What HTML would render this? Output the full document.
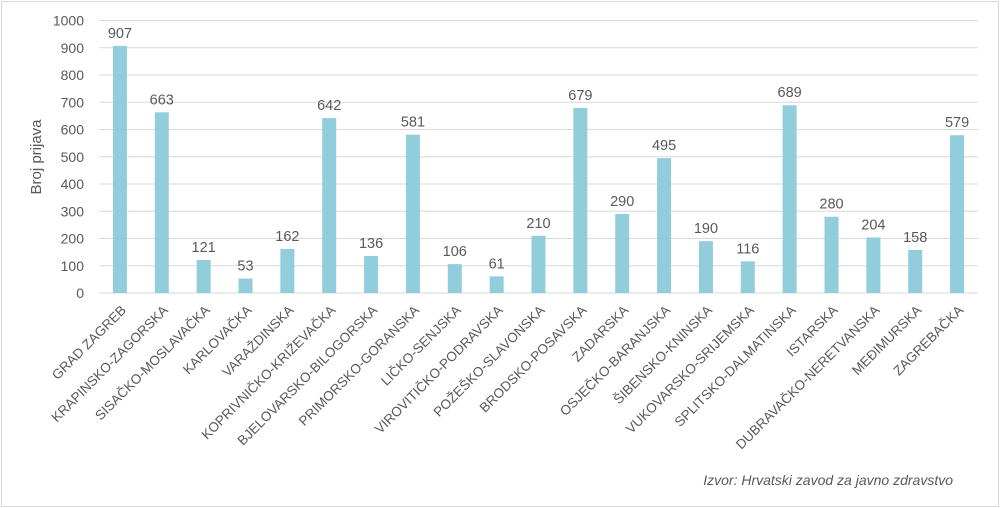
<!DOCTYPE html>
<html><head><meta charset="utf-8"><style>
body{margin:0;background:#fff;}
#wrap{position:relative;width:1000px;height:508px;overflow:hidden;}
#frame{position:absolute;left:1px;top:1px;width:996px;height:504px;border:1px solid #d9d9d9;}
svg text{font-family:"Liberation Sans",sans-serif;fill:#595959;}
</style></head><body>
<div id="wrap">
<div id="frame"></div>
<svg id="chart" width="1000" height="508"></svg>
</div>
<script>
const categories=["GRAD ZAGREB","KRAPINSKO-ZAGORSKA","SISAČKO-MOSLAVAČKA","KARLOVAČKA","VARAŽDINSKA","KOPRIVNIČKO-KRIŽEVAČKA","BJELOVARSKO-BILOGORSKA","PRIMORSKO-GORANSKA","LIČKO-SENJSKA","VIROVITIČKO-PODRAVSKA","POŽEŠKO-SLAVONSKA","BRODSKO-POSAVSKA","ZADARSKA","OSJEČKO-BARANJSKA","ŠIBENSKO-KNINSKA","VUKOVARSKO-SRIJEMSKA","SPLITSKO-DALMATINSKA","ISTARSKA","DUBRAVAČKO-NERETVANSKA","MEĐIMURSKA","ZAGREBAČKA"];
const values=[907,663,121,53,162,642,136,581,106,61,210,679,290,495,190,116,689,280,204,158,579];
const yTicks=[0,100,200,300,400,500,600,700,800,900,1000];
const NS="http://www.w3.org/2000/svg";
const svg=document.getElementById('chart');
const x0=99,x1=978,y0=293,yTop=20.5,yMax=1000;
const y=v=>y0-(v/yMax)*(y0-yTop);
const step=(x1-x0)/categories.length;
const xc=i=>x0+step*(i+0.5);
function mk(t,a){const e=document.createElementNS(NS,t);for(const k in a)e.setAttribute(k,a[k]);svg.appendChild(e);return e;}
yTicks.forEach(v=>{
 const l=mk('line',{x1:x0,x2:x1,y1:y(v),y2:y(v),stroke:'#d9d9d9','stroke-width':1});
 
 
 const t=mk('text',{x:84,y:y(v)+5,'text-anchor':'end','font-size':14});
 t.textContent=v;
 
 
});
const yt=mk('text',{x:0,y:0,'text-anchor':'middle','font-size':15,transform:'translate(41,157) rotate(-90)'});
yt.textContent='Broj prijava';


categories.forEach((c,i)=>{
 const v=values[i],cx=xc(i);
 const r=mk('rect',{x:cx-7,y:y(v),width:14,height:y0-y(v),fill:'#92cddc'});
 
 
 const t=mk('text',{x:cx,y:y(v)-8,'text-anchor':'middle','font-size':14.5});
 t.textContent=v;
 
 
 const l=mk('text',{x:0,y:0,'text-anchor':'end','font-size':13.5,transform:`translate(${cx+7},${y0+18}) rotate(-45)`});
 l.textContent=c;
 
 
});
const s=mk('text',{x:953,y:485,'text-anchor':'end','font-size':14,'font-style':'italic'});
s.textContent='Izvor: Hrvatski zavod za javno zdravstvo';


</script>
</body></html>
